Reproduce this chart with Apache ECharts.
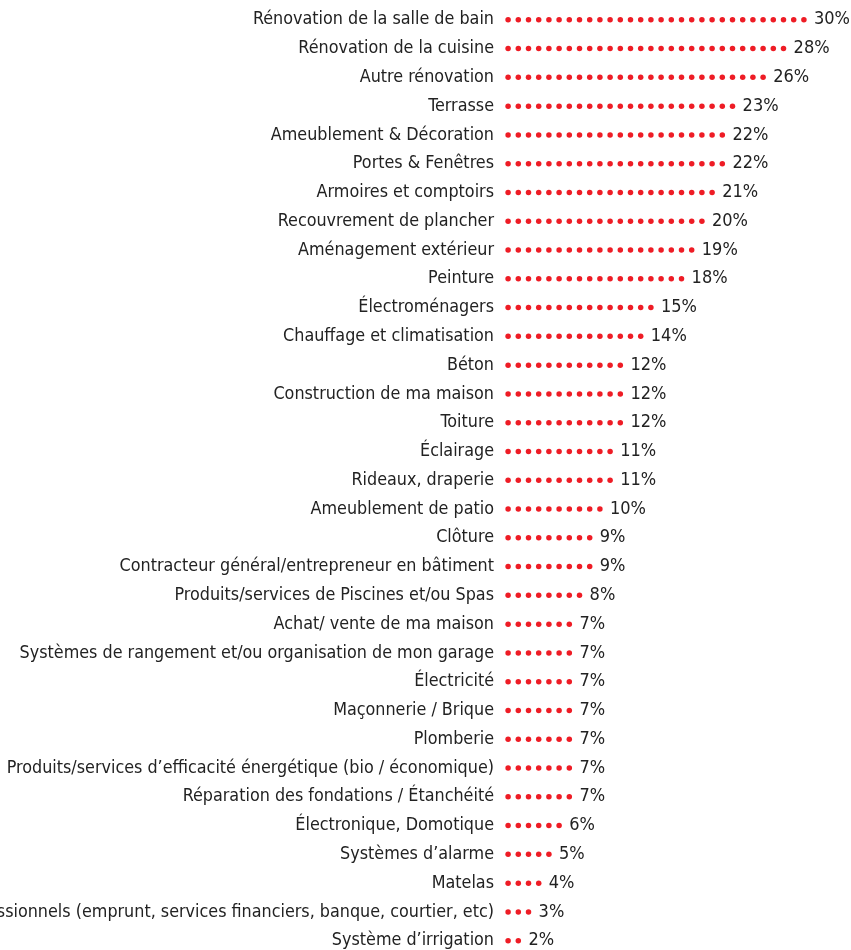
<!DOCTYPE html>
<html>
<head>
<meta charset="utf-8">
<script src="https://cdn.jsdelivr.net/npm/echarts@6/dist/echarts.min.js"></script>
<style>
  html, body { margin: 0; padding: 0; background: #fff; }
  #chart { width: 851px; height: 950px; }
</style>
</head>
<body>
<div id="chart"></div>
<script>
// catégories, du haut vers le bas
const categories = [
  'Rénovation de la salle de bain',
  'Rénovation de la cuisine',
  'Autre rénovation',
  'Terrasse',
  'Ameublement & Décoration',
  'Portes & Fenêtres',
  'Armoires et comptoirs',
  'Recouvrement de plancher',
  'Aménagement extérieur',
  'Peinture',
  'Électroménagers',
  'Chauffage et climatisation',
  'Béton',
  'Construction de ma maison',
  'Toiture',
  'Éclairage',
  'Rideaux, draperie',
  'Ameublement de patio',
  'Clôture',
  'Contracteur général/entrepreneur en bâtiment',
  'Produits/services de Piscines et/ou Spas',
  'Achat/ vente de ma maison',
  'Systèmes de rangement et/ou organisation de mon garage',
  'Électricité',
  'Maçonnerie / Brique',
  'Plomberie',
  'Produits/services d’efficacité énergétique (bio / économique)',
  'Réparation des fondations / Étanchéité',
  'Électronique, Domotique',
  'Systèmes d’alarme',
  'Matelas',
  'Services professionnels (emprunt, services financiers, banque, courtier, etc)',
  'Système d’irrigation'
]

const values = [30, 28, 26, 23, 22, 22, 21, 20, 19, 18, 15, 14, 12, 12, 12, 11, 11, 10, 9, 9, 8, 7, 7, 7, 7, 7, 7, 7, 6, 5, 4, 3, 2]

const font = '"Liberation Sans Narrow", "DejaVu Sans Condensed", sans-serif'

const myChart = echarts.init(document.getElementById('chart'))
const option = {
  animation: false,
  grid: {
    left: 503,
    top: 5.4,
    width: 346.8,
    height: 949.7,
    containLabel: false,
    outerBoundsMode: 'none'
  },
  xAxis: {
    type: 'value',
    min: 0,
    max: 34,
    show: false
  },
  yAxis: {
    type: 'category',
    inverse: true,
    data: categories,
    axisLine: { show: false },
    axisTick: { show: false },
    splitLine: { show: false },
    axisLabel: {
      margin: 9,
      interval: 0,
      color: '#222222',
      fontFamily: font,
      fontSize: 17.8
    }
  },
  series: [
    {
      type: 'pictorialBar',
      data: values,
      symbol: 'circle',
      symbolSize: [5.5, 5.5],
      symbolRepeat: true,
      symbolMargin: '2.35!',
      symbolClip: false,
      itemStyle: { color: '#ee1c25' },
      label: {
        show: true,
        position: 'right',
        distance: 5,
        formatter: '{c}%',
        color: '#222222',
        fontFamily: font,
        fontSize: 18
      }
    }
  ]
}
myChart.setOption(option)
</script>
</body>
</html>
